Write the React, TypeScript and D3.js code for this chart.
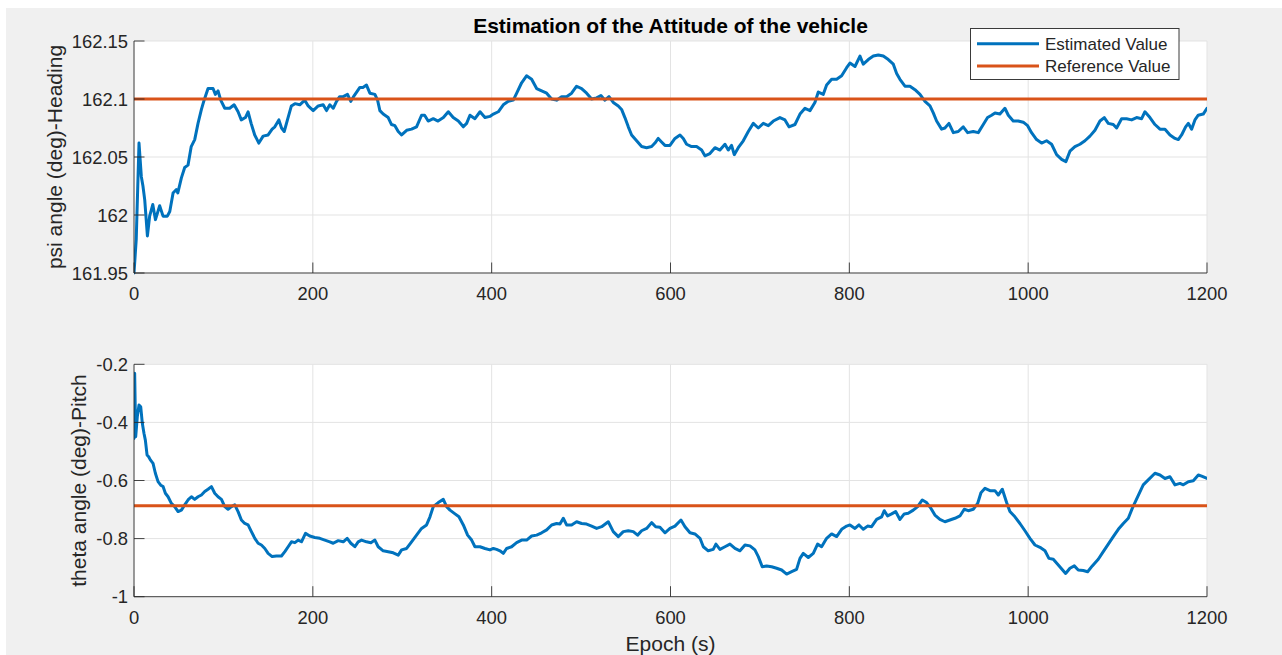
import React from "react";
import * as d3 from "d3";

const title = "Estimation of the Attitude of the vehicle";
const xLabel = "Epoch (s)";
const psiLabel = "psi angle (deg)-Heading";
const thetaLabel = "theta angle (deg)-Pitch";
const legendLabels = ["Estimated Value", "Reference Value"];

const xTicks = [0, 200, 400, 600, 800, 1000, 1200];
const psiTicks = [161.95, 162, 162.05, 162.1, 162.15];
const psiTickLabels = ["161.95", "162", "162.05", "162.1", "162.15"];
const thetaTicks = [-1, -0.8, -0.6, -0.4, -0.2];
const thetaTickLabels = ["-1", "-0.8", "-0.6", "-0.4", "-0.2"];

const psiReference = 162.1;
const thetaReference = -0.687;

const psiEstimated: [number, number][] = [
  [0,161.950],[2.5,161.979],[5.6,162.062],[8.2,162.033],[10,162.025],[12,162.013],[15,161.982],[17.5,161.999],[21,162.009],[24,161.996],[28.7,162.008],[32.5,161.999],[37.3,161.999],[40,162.003],[43.7,162.019],[47.4,162.022],[49,162.019],[53,162.032],[56.7,162.041],[60.4,162.043],[64,162.059],[67.9,162.065],[71.6,162.079],[75.4,162.091],[78.4,162.099],[82.8,162.109],[88.4,162.109],[91,162.104],[94,162.107],[97,162.099],[101.5,162.092],[107,162.092],[112,162.095],[116.4,162.089],[120,162.082],[124.6,162.084],[127.6,162.089],[131,162.079],[135,162.069],[139.6,162.062],[144.4,162.068],[150,162.069],[154.5,162.074],[157.5,162.076],[162,162.082],[165,162.075],[168,162.072],[171.6,162.082],[176,162.094],[180,162.096],[185.4,162.095],[191,162.099],[194.8,162.094],[200.4,162.090],[206,162.094],[211.6,162.095],[215.3,162.090],[219,162.095],[222.8,162.092],[226.5,162.098],[230,162.102],[234,162.102],[238.8,162.104],[242.5,162.098],[246.3,162.103],[252.6,162.110],[256,162.110],[260,162.112],[263.8,162.105],[269.4,162.104],[272.4,162.099],[275,162.090],[278.7,162.087],[284.3,162.084],[288,162.078],[291.8,162.077],[295.5,162.072],[299.3,162.069],[304.9,162.073],[310.4,162.074],[316,162.076],[321.6,162.086],[325,162.086],[329,162.081],[334.7,162.083],[340,162.081],[346,162.084],[351.5,162.089],[357,162.084],[362.7,162.081],[368.3,162.076],[372,162.079],[375.7,162.086],[381.3,162.083],[387,162.089],[392.5,162.084],[398,162.085],[401.9,162.087],
  [407.4,162.089],[413,162.095],[418.6,162.098],[424.2,162.099],[428,162.105],[433.5,162.114],[439,162.120],[444.7,162.117],[450.3,162.109],[455.9,162.107],[461.5,162.105],[467,162.100],[472.6,162.099],[478.2,162.102],[483.8,162.102],[489.4,162.105],[495,162.111],[500.6,162.109],[506.2,162.105],[511.8,162.100],[517.4,162.101],[522.2,162.103],[526.7,162.099],[531.2,162.102],[536,162.097],[541.6,162.094],[545.3,162.091],[549,162.084],[552.8,162.076],[556.5,162.069],[562.1,162.064],[567.7,162.059],[573.3,162.058],[578.9,162.059],[582.6,162.062],[586.3,162.066],[590,162.063],[593.8,162.060],[599.4,162.060],[605,162.066],[610.6,162.069],[614.3,162.066],[618,162.061],[623.6,162.059],[629.2,162.059],[634.8,162.056],[638.5,162.051],[644.1,162.053],[649.7,162.058],[655.3,162.056],[660.9,162.061],[664.6,162.056],[668.3,162.060],[671.3,162.052],[675.8,162.058],[681.4,162.064],[687,162.072],[692.6,162.079],[698.2,162.075],[703.8,162.079],[709.4,162.077],[715,162.081],[722.4,162.084],[728,162.082],[732.5,162.076],[739.2,162.078],[744.8,162.087],[750.4,162.092],[756,162.090],[761.5,162.097],[765.3,162.106],[770.9,162.104],[774.6,162.112],[780.2,162.117],[785.8,162.117],[791.4,162.120],[797,162.127],[800.7,162.131],
  [806.3,162.128],[811.9,162.137],[815.6,162.130],[821.2,162.134],[826.8,162.137],[832.4,162.138],[838,162.137],[843.6,162.134],[849.2,162.130],[852.9,162.122],[856.6,162.117],[862.2,162.111],[867.8,162.111],[873.4,162.108],[879,162.104],[884.6,162.098],[890.2,162.094],[893.9,162.088],[897.6,162.081],[903.2,162.074],[906.9,162.075],[911.4,162.079],[916.3,162.071],[921.8,162.072],[927.4,162.076],[932.3,162.071],[938.6,162.072],[944.2,162.071],[949.8,162.078],[954.6,162.084],[959.1,162.086],[962.9,162.088],[968.4,162.087],[974,162.092],[977.8,162.086],[983.3,162.081],[988.9,162.081],[994.5,162.080],[999.4,162.077],[1003.8,162.071],[1009.4,162.065],[1015,162.062],[1020.6,162.064],[1026.2,162.061],[1031.8,162.052],[1037.4,162.048],[1042.2,162.046],[1046.7,162.055],[1052.3,162.059],[1057.9,162.061],[1063.5,162.064],[1069.1,162.068],[1074.7,162.073],[1080.3,162.081],[1085.1,162.084],[1089.6,162.079],[1095.2,162.078],[1098.9,162.075],[1104.5,162.083],[1110.1,162.083],[1115.7,162.082],[1121.3,162.084],[1126.9,162.083],[1130.6,162.089],[1136.2,162.084],[1141.8,162.078],[1147.4,162.074],[1153,162.074],[1158.6,162.069],[1164.2,162.066],[1167.9,162.065],[1171.6,162.069],[1176.1,162.076],[1179.1,162.079],[1182.8,162.074],[1186.5,162.082],[1190.2,162.086],[1195.8,162.087],[1200,162.092],
];

const thetaEstimated: [number, number][] = [
  [0,-0.455],[0.75,-0.231],[1.9,-0.449],[3.7,-0.380],[5.6,-0.340],[7.5,-0.346],[9.3,-0.403],[11.2,-0.438],[12.7,-0.461],[14.6,-0.512],[16.4,-0.518],[18.3,-0.529],[21.3,-0.541],[23.9,-0.575],[26.9,-0.604],[29.9,-0.616],[32.5,-0.621],[35.1,-0.644],[38.1,-0.656],[41.8,-0.679],[45.5,-0.690],[49.3,-0.707],[53,-0.702],[56.7,-0.684],[60.4,-0.667],[64.2,-0.656],[67.9,-0.665],[71.6,-0.656],[75.4,-0.650],[79.1,-0.638],[82.8,-0.630],[86.6,-0.621],[90.3,-0.644],[94,-0.656],[97.8,-0.665],[101.5,-0.690],[105.2,-0.699],[109,-0.690],[112.7,-0.684],[116.4,-0.707],[120.1,-0.736],[123.9,-0.748],[127.6,-0.753],[131.3,-0.776],[135.1,-0.799],[138.8,-0.816],[142.5,-0.822],[146.3,-0.834],[150,-0.851],[154.5,-0.862],[159.3,-0.860],[164.9,-0.860],[168.7,-0.845],[172.4,-0.828],[176.1,-0.811],[179.9,-0.814],[183.6,-0.805],[187.3,-0.811],[191.8,-0.782],[196.6,-0.791],[202.2,-0.796],[207.8,-0.799],[213.4,-0.805],[219,-0.811],[222.8,-0.816],[228.4,-0.807],[234,-0.811],[238.4,-0.799],[242.5,-0.816],[247,-0.828],[250.7,-0.811],[254.5,-0.805],[260,-0.811],[264.9,-0.814],[269.4,-0.805],[273.1,-0.828],[278.7,-0.842],[284.3,-0.845],[289.9,-0.849],[295.5,-0.857],[299.3,-0.839],[304.9,-0.834],[310.4,-0.811],[316,-0.788],[321.6,-0.765],[327.2,-0.753],[331,-0.725],[334.7,-0.690],[340.3,-0.676],[345.9,-0.665],[349.6,-0.690],[353.4,-0.702],[359,-0.715],[363.4,-0.725],[368.3,-0.753],[373.1,-0.788],[377.6,-0.805],[381.3,-0.828],[386.9,-0.828],[392.5,-0.834],[398.1,-0.839],[401.9,-0.834],
  [405.5,-0.837],[409.3,-0.842],[413,-0.851],[416.7,-0.834],[422.3,-0.828],[427.9,-0.814],[433.5,-0.805],[439.1,-0.805],[444.7,-0.791],[450.3,-0.788],[455.9,-0.780],[461.5,-0.770],[467.1,-0.753],[472.6,-0.748],[476.4,-0.750],[480.1,-0.730],[483.8,-0.753],[489.4,-0.753],[495,-0.742],[500.6,-0.748],[506.2,-0.750],[511.8,-0.757],[517.4,-0.765],[523,-0.759],[530.4,-0.742],[536,-0.776],[541.6,-0.793],[547.2,-0.776],[552.8,-0.773],[558.4,-0.776],[563.2,-0.788],[567.7,-0.773],[573.3,-0.765],[578.9,-0.745],[583.4,-0.759],[588.2,-0.761],[593.8,-0.780],[599.4,-0.765],[605,-0.757],[611.7,-0.736],[616.2,-0.759],[621.8,-0.780],[627.3,-0.784],[633,-0.799],[636.7,-0.828],[642.2,-0.842],[647.8,-0.837],[650.8,-0.819],[655.3,-0.837],[660.9,-0.828],[666.5,-0.819],[672.1,-0.834],[677.7,-0.842],[683.3,-0.822],[688.9,-0.825],[694.4,-0.839],[698.2,-0.862],[702.6,-0.897],[707.5,-0.894],[713.1,-0.897],[718.7,-0.902],[724.3,-0.908],[729.9,-0.922],[735.5,-0.914],[741,-0.906],[744.8,-0.868],[748.5,-0.851],[754.1,-0.865],[759.7,-0.851],[764.5,-0.819],[769,-0.828],[774.6,-0.799],[780.2,-0.784],[785.8,-0.793],[791.4,-0.768],[797,-0.757],[800.7,-0.753],
  [806.3,-0.765],[810.8,-0.753],[815.6,-0.768],[820.4,-0.757],[824.9,-0.759],[830.5,-0.734],[836.1,-0.725],[839.1,-0.704],[842.8,-0.722],[847.3,-0.715],[851.8,-0.707],[856.6,-0.734],[861.4,-0.715],[865.9,-0.713],[871.5,-0.702],[876.4,-0.690],[881.6,-0.667],[886.4,-0.676],[891.3,-0.696],[895.7,-0.719],[901.3,-0.734],[906.9,-0.742],[912.5,-0.736],[918.1,-0.730],[923.7,-0.722],[928.5,-0.699],[933,-0.704],[938.6,-0.699],[943.5,-0.679],[947.2,-0.642],[951.7,-0.627],[957.3,-0.635],[962.8,-0.635],[966.6,-0.650],[971.1,-0.630],[975.9,-0.676],[979.6,-0.707],[985.2,-0.725],[990.8,-0.748],[996.4,-0.773],[1002,-0.799],[1007.6,-0.822],[1013.2,-0.830],[1018.8,-0.842],[1023.2,-0.868],[1028.1,-0.871],[1033.7,-0.891],[1041.9,-0.920],[1046.7,-0.902],[1051.6,-0.894],[1056,-0.908],[1061.6,-0.910],[1066.5,-0.914],[1071.7,-0.894],[1078.4,-0.871],[1084,-0.845],[1089.6,-0.819],[1095.2,-0.793],[1100.8,-0.768],[1106.4,-0.748],[1112,-0.730],[1116.4,-0.696],[1122.4,-0.656],[1128.7,-0.615],[1134.3,-0.598],[1141.8,-0.575],[1147.4,-0.581],[1153,-0.593],[1158.6,-0.587],[1164.2,-0.615],[1169.8,-0.610],[1173.5,-0.615],[1179.1,-0.604],[1184.7,-0.601],[1190.3,-0.581],[1194,-0.585],[1200,-0.593],
];

const BLUE = "#0072BD";
const ORANGE = "#D95319";
const AXIS = "#262626";
const GRID = "#e3e3e3";
const FONT = "'Liberation Sans', Arial, Helvetica, sans-serif";

const W = 1282;
const H = 655;
const left = 134;
const right = 1207;

const x = d3.scaleLinear().domain([0, 1200]).range([left, right]);

type PanelProps = {
  top: number;
  bottom: number;
  domain: [number, number];
  ticks: number[];
  tickLabels: string[];
  data: [number, number][];
  reference: number;
  yLabel: string;
  yLabelX: number;
  id: string;
};

function Panel({ top, bottom, domain, ticks, tickLabels, data, reference, yLabel, yLabelX, id }: PanelProps) {
  const y = d3.scaleLinear().domain(domain).range([bottom, top]);
  const line = d3
    .line<[number, number]>()
    .x((d) => x(d[0]))
    .y((d) => y(d[1]));
  const tickLen = 10.5;
  const midY = (top + bottom) / 2;
  return (
    <g>
      <rect x={left} y={top} width={right - left} height={bottom - top} fill="#ffffff" />
      {xTicks.map((t) => (
        <line key={"gx" + t} x1={x(t)} x2={x(t)} y1={top} y2={bottom} stroke={GRID} strokeWidth={1} />
      ))}
      {ticks.map((t) => (
        <line key={"gy" + t} x1={left} x2={right} y1={y(t)} y2={y(t)} stroke={GRID} strokeWidth={1} />
      ))}
      <clipPath id={id}>
        <rect x={left} y={top - 2} width={right - left} height={bottom - top + 4} />
      </clipPath>
      <g clipPath={`url(#${id})`}>
        <path d={line(data) || ""} fill="none" stroke={BLUE} strokeWidth={3} strokeLinejoin="round" strokeLinecap="round" />
        <line x1={x(0)} x2={x(1200)} y1={y(reference)} y2={y(reference)} stroke={ORANGE} strokeWidth={3} />
      </g>
      <line x1={left} x2={right} y1={bottom} y2={bottom} stroke={AXIS} strokeWidth={1} opacity={0.85} />
      <line x1={left} x2={left} y1={top} y2={bottom} stroke={AXIS} strokeWidth={1} opacity={0.85} />
      {xTicks.map((t) => (
        <g key={"tx" + t}>
          <line x1={x(t)} x2={x(t)} y1={bottom} y2={bottom - tickLen} stroke={AXIS} strokeWidth={1} opacity={0.85} />
          <text x={x(t)} y={bottom + 27} textAnchor="middle" fontSize={18.4} fill={AXIS} fontFamily={FONT}>
            {t}
          </text>
        </g>
      ))}
      {ticks.map((t, i) => (
        <g key={"ty" + t}>
          <line x1={left} x2={left + tickLen} y1={y(t)} y2={y(t)} stroke={AXIS} strokeWidth={1} opacity={0.85} />
          <text x={left - 6} y={y(t) + 6.5} textAnchor="end" fontSize={18.4} fill={AXIS} fontFamily={FONT}>
            {tickLabels[i]}
          </text>
        </g>
      ))}
      <text
        transform={`translate(${yLabelX},${midY}) rotate(-90)`}
        textAnchor="middle"
        fontSize={21}
        fill={AXIS}
        fontFamily={FONT}
      >
        {yLabel}
      </text>
    </g>
  );
}

export default function App() {
  const legX = 970.5;
  const legY = 28.5;
  return (
    <svg
      width={W}
      height={H}
      style={{ position: "absolute", left: 0, top: 0, display: "block" }}
      xmlns="http://www.w3.org/2000/svg"
    >
      <rect x={0} y={0} width={W} height={H} fill="#ffffff" />
      <rect x={6} y={8} width={W - 6} height={H - 8} fill="#f0f0f0" />
      <Panel
        top={41}
        bottom={273}
        domain={[161.95, 162.15]}
        ticks={psiTicks}
        tickLabels={psiTickLabels}
        data={psiEstimated}
        reference={psiReference}
        yLabel={psiLabel}
        yLabelX={62}
        id="clipPsi"
      />
      <Panel
        top={364.3}
        bottom={596.7}
        domain={[-1, -0.2]}
        ticks={thetaTicks}
        tickLabels={thetaTickLabels}
        data={thetaEstimated}
        reference={thetaReference}
        yLabel={thetaLabel}
        yLabelX={86}
        id="clipTheta"
      />
      <text x={(left + right) / 2} y={33} textAnchor="middle" fontSize={21} fontWeight="bold" fill="#000" fontFamily={FONT}>
        {title}
      </text>
      <text x={(left + right) / 2} y={651} textAnchor="middle" fontSize={21} fill={AXIS} fontFamily={FONT}>
        {xLabel}
      </text>
      <g>
        <rect x={legX} y={legY} width={208.5} height={51} fill="#ffffff" stroke="#3a3a3a" strokeWidth={1} />
        {legendLabels.map((lab, i) => {
          const cy = 43.7 + i * 22.3;
          return (
            <g key={lab}>
              <line x1={977} x2={1039} y1={cy} y2={cy} stroke={i === 0 ? BLUE : ORANGE} strokeWidth={3} />
              <text x={1045} y={cy + 6} fontSize={17} fill={AXIS} fontFamily={FONT}>
                {lab}
              </text>
            </g>
          );
        })}
      </g>
    </svg>
  );
}
